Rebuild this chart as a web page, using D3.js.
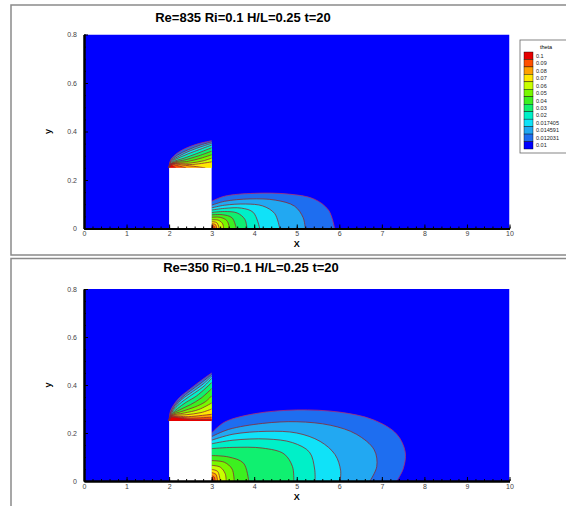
<!DOCTYPE html>
<html>
<head>
<meta charset="utf-8">
<script src="https://cdn.jsdelivr.net/npm/d3@7"></script>
<style>
  body { margin: 0; background: #fff; }
  svg { display: block; font-family: "Liberation Sans", Arial, sans-serif; }
</style>
</head>
<body>
<svg id="chart" width="566" height="506"></svg>
<script>
// contour levels (ascending) and their flood colours
const levels = [0.01, 0.012031, 0.014591, 0.017405, 0.02, 0.03, 0.04, 0.05, 0.06, 0.07, 0.08, 0.09, 0.1];
const levelColors = ["#0000ff", "#1e6ef0", "#22a8f2", "#10e2f8", "#00f0c8", "#10f070", "#3cf020", "#78f800", "#c8ff00", "#ffe800", "#ffa000", "#ff5000", "#e60000"];
const legendLabels = ["0.1", "0.09", "0.08", "0.07", "0.06", "0.05", "0.04", "0.03", "0.02", "0.017405", "0.014591", "0.012031", "0.01"];

const xTicks = [0, 1, 2, 3, 4, 5, 6, 7, 8, 9, 10];
const yTicks = [0, 0.2, 0.4, 0.6, 0.8];

// obstacle (white block)
const block = { x0: 2, x1: 3, h: 0.25 };

// Re=835 : contours above the block (level)
const cap835 = [
  [0.012031, [[2.0, 0.25], [2.03, 0.28], [2.15, 0.305], [2.37, 0.329], [2.68, 0.349], [3.0, 0.362]]],
  [0.014591, [[2.0, 0.25], [2.04, 0.279], [2.2, 0.303], [2.45, 0.325], [2.75, 0.345], [3.0, 0.357]]],
  [0.017405, [[2.0, 0.25], [2.05, 0.277], [2.25, 0.3], [2.5, 0.321], [2.8, 0.34], [3.0, 0.351]]],
  [0.02, [[2.0, 0.25], [2.06, 0.275], [2.3, 0.297], [2.6, 0.318], [3.0, 0.344]]],
  [0.03, [[2.0, 0.25], [2.07, 0.272], [2.35, 0.29], [2.65, 0.309], [3.0, 0.333]]],
  [0.04, [[2.0, 0.25], [2.08, 0.27], [2.4, 0.284], [2.7, 0.3], [3.0, 0.319]]],
  [0.05, [[2.0, 0.25], [2.08, 0.268], [2.45, 0.277], [2.75, 0.29], [3.0, 0.304]]],
  [0.06, [[2.0, 0.25], [2.07, 0.266], [2.5, 0.27], [2.8, 0.279], [3.0, 0.29]]],
  [0.07, [[2.0, 0.25], [2.06, 0.265], [2.55, 0.264], [3.0, 0.275]]],
  [0.08, [[2.0, 0.25], [2.04, 0.266], [2.3, 0.262], [2.65, 0.255], [2.85, 0.25]]],
  [0.09, [[2.0, 0.25], [2.03, 0.266], [2.18, 0.26], [2.4, 0.25]]],
  [0.1, [[2.0, 0.25], [2.02, 0.265], [2.09, 0.258], [2.16, 0.25]]]
];
// Re=835 : plume behind the block
const plume835 = [
  [0.012031, [[3.0, 0.112], [3.3, 0.133], [4.0, 0.145], [4.8, 0.142], [5.4, 0.122], [5.75, 0.075], [5.89, 0]]],
  [0.014591, [[3.0, 0.096], [3.3, 0.112], [3.9, 0.122], [4.5, 0.117], [4.95, 0.092], [5.15, 0.045], [5.2, 0]]],
  [0.017405, [[3.0, 0.085], [3.3, 0.096], [3.8, 0.101], [4.2, 0.093], [4.48, 0.062], [4.6, 0]]],
  [0.02, [[3.0, 0.076], [3.3, 0.083], [3.7, 0.084], [3.98, 0.066], [4.13, 0]]],
  [0.03, [[3.0, 0.066], [3.3, 0.07], [3.6, 0.064], [3.78, 0.038], [3.83, 0]]],
  [0.04, [[3.0, 0.056], [3.25, 0.057], [3.48, 0.044], [3.58, 0]]],
  [0.05, [[3.0, 0.046], [3.2, 0.046], [3.36, 0.032], [3.42, 0]]],
  [0.06, [[3.0, 0.036], [3.16, 0.034], [3.26, 0.019], [3.28, 0]]],
  [0.07, [[3.0, 0.028], [3.12, 0.024], [3.18, 0]]],
  [0.08, [[3.0, 0.02], [3.09, 0.016], [3.12, 0]]],
  [0.09, [[3.0, 0.013], [3.06, 0.009], [3.08, 0]]],
  [0.1, [[3.0, 0.008], [3.03, 0.005], [3.04, 0]]]
];

// Re=350 : contours above the block
const cap350 = [
  [0.012031, [[2.0, 0.25], [2.03, 0.29], [2.1, 0.315], [2.24, 0.347], [2.47, 0.38], [2.71, 0.413], [3.0, 0.45]]],
  [0.014591, [[2.0, 0.25], [2.04, 0.288], [2.12, 0.313], [2.28, 0.344], [2.5, 0.376], [2.75, 0.408], [3.0, 0.444]]],
  [0.017405, [[2.0, 0.25], [2.05, 0.286], [2.14, 0.31], [2.3, 0.34], [2.55, 0.372], [2.8, 0.404], [3.0, 0.437]]],
  [0.02, [[2.0, 0.25], [2.06, 0.284], [2.16, 0.307], [2.35, 0.336], [2.6, 0.367], [2.82, 0.395], [3.0, 0.428]]],
  [0.03, [[2.0, 0.25], [2.07, 0.281], [2.2, 0.302], [2.4, 0.328], [2.65, 0.355], [3.0, 0.41]]],
  [0.04, [[2.0, 0.25], [2.07, 0.278], [2.25, 0.297], [2.5, 0.318], [2.75, 0.345], [3.0, 0.385]]],
  [0.05, [[2.0, 0.25], [2.07, 0.275], [2.3, 0.29], [2.6, 0.308], [2.85, 0.33], [3.0, 0.355]]],
  [0.06, [[2.0, 0.25], [2.06, 0.272], [2.35, 0.283], [2.7, 0.298], [3.0, 0.325]]],
  [0.07, [[2.0, 0.25], [2.05, 0.27], [2.4, 0.276], [2.75, 0.285], [3.0, 0.3]]],
  [0.08, [[2.0, 0.25], [2.04, 0.268], [2.45, 0.268], [3.0, 0.278]]],
  [0.09, [[2.0, 0.25], [2.03, 0.266], [2.5, 0.262], [3.0, 0.266]]],
  [0.1, [[2.0, 0.25], [2.02, 0.264], [2.5, 0.257], [3.0, 0.257]]]
];
// Re=350 : plume behind the block
const plume350 = [
  [0.012031, [[3.0, 0.2], [3.3, 0.245], [4.0, 0.28], [5.0, 0.296], [6.0, 0.287], [6.8, 0.255], [7.35, 0.195], [7.55, 0.12], [7.5, 0.05], [7.35, 0]]],
  [0.014591, [[3.0, 0.185], [3.4, 0.215], [4.2, 0.24], [5.0, 0.247], [5.8, 0.232], [6.4, 0.195], [6.82, 0.13], [6.88, 0.06], [6.72, 0]]],
  [0.017405, [[3.0, 0.17], [3.5, 0.195], [4.3, 0.207], [5.0, 0.2], [5.55, 0.165], [5.9, 0.11], [6.03, 0.045], [6.02, 0]]],
  [0.02, [[3.0, 0.155], [3.5, 0.17], [4.3, 0.175], [4.9, 0.16], [5.3, 0.12], [5.42, 0.05], [5.43, 0]]],
  [0.03, [[3.0, 0.135], [3.5, 0.14], [4.2, 0.137], [4.7, 0.113], [4.9, 0.06], [4.93, 0]]],
  [0.04, [[3.0, 0.106], [3.4, 0.1], [3.75, 0.074], [3.87, 0]]],
  [0.05, [[3.0, 0.085], [3.3, 0.078], [3.48, 0.05], [3.53, 0]]],
  [0.06, [[3.0, 0.065], [3.2, 0.058], [3.32, 0.03], [3.34, 0]]],
  [0.07, [[3.0, 0.048], [3.14, 0.04], [3.2, 0]]],
  [0.08, [[3.0, 0.035], [3.1, 0.028], [3.14, 0]]],
  [0.09, [[3.0, 0.022], [3.06, 0.017], [3.08, 0]]],
  [0.1, [[3.0, 0.012], [3.03, 0.008], [3.04, 0]]]
];

const svg = d3.select("#chart");
const color = d3.scaleOrdinal().domain(levels).range(levelColors);

function drawPanel(p) {
  const g = svg.append("g");

  // panel frame
  g.append("rect")
    .attr("x", 11).attr("y", p.frameTop)
    .attr("width", 570).attr("height", p.frameH)
    .attr("fill", "none").attr("stroke", "#8a8a8a").attr("stroke-width", 1.5);

  g.append("text")
    .attr("x", p.titleX).attr("y", p.titleY)
    .attr("text-anchor", "middle")
    .attr("font-size", 13).attr("font-weight", "bold")
    .text(p.title);

  const x = d3.scaleLinear().domain([0, 10]).range([84, 509.5]);
  const y = d3.scaleLinear().domain([0, 0.8]).range([p.y0, p.y8]);

  const clipId = "clip" + p.id;
  g.append("clipPath").attr("id", clipId)
    .append("rect")
    .attr("x", x(0)).attr("y", y(0.8))
    .attr("width", x(10) - x(0)).attr("height", y(0) - y(0.8));

  const plot = g.append("g").attr("clip-path", `url(#${clipId})`);

  plot.append("rect")
    .attr("x", x(0)).attr("y", y(0.8))
    .attr("width", x(10) - x(0)).attr("height", y(0) - y(0.8))
    .attr("fill", color(0.01));

  const line = d3.line().x(d => x(d[0])).y(d => y(d[1])).curve(d3.curveCatmullRom.alpha(0.5));

  const capPath = d => line(d[1]) + `L${x(d[1][d[1].length - 1][0])},${y(block.h)}Z`;
  const plumePath = d => line(d[1]) + `L${x(block.x1)},${y(0)}Z`;

  // flooded bands, lowest level first
  plot.selectAll("path.pf").data(p.plume).enter().append("path")
    .attr("class", "pf")
    .attr("d", plumePath)
    .attr("fill", d => color(d[0]));
  plot.selectAll("path.cf").data(p.cap).enter().append("path")
    .attr("class", "cf")
    .attr("d", capPath)
    .attr("fill", d => color(d[0]));

  // contour lines
  plot.selectAll("path.cl").data(p.plume.concat(p.cap)).enter().append("path")
    .attr("class", "cl")
    .attr("d", d => line(d[1]))
    .attr("fill", "none")
    .attr("stroke", d => d[0] === 0.012031 ? "#b03070" : "#8a2a30")
    .attr("stroke-width", 0.8);

  plot.append("rect")
    .attr("x", x(block.x0)).attr("y", y(block.h))
    .attr("width", x(block.x1) - x(block.x0)).attr("height", y(0) - y(block.h))
    .attr("fill", "#fff");

  // axes
  const axX = g.append("g").attr("transform", `translate(0,${y(0)})`)
    .call(d3.axisBottom(x).tickValues(xTicks).tickSize(-4).tickSizeOuter(0).tickPadding(3));
  g.append("g").attr("transform", `translate(0,${y(0)})`)
    .call(d3.axisBottom(x).tickValues(d3.range(0, 10.01, 0.2)).tickSize(-2).tickSizeOuter(0).tickFormat(""));
  const axY = g.append("g").attr("transform", `translate(${x(0)},0)`)
    .call(d3.axisLeft(y).tickValues(yTicks).tickSize(-4).tickSizeOuter(0).tickPadding(7).tickFormat(d => d === 0 ? "0" : d3.format(".1f")(d)));
  g.append("g").attr("transform", `translate(${x(0)},0)`)
    .call(d3.axisLeft(y).tickValues(d3.range(0, 0.801, 0.05)).tickSize(-2).tickSizeOuter(0).tickFormat(""));

  g.selectAll(".domain").attr("stroke", "#000").attr("stroke-width", 2);
  g.selectAll(".tick line").attr("stroke", "#000");
  [axX, axY].forEach(a => a.selectAll("text")
    .attr("font-size", 7).attr("fill", "#444")
    .attr("font-family", "Liberation Sans, Arial, sans-serif"));

  g.append("text")
    .attr("x", x(5)).attr("y", y(0) + 18.5)
    .attr("text-anchor", "middle")
    .attr("font-size", 9).attr("font-weight", "bold")
    .text("X");
  g.append("text")
    .attr("transform", `translate(51,${y(0.4)}) rotate(-90)`)
    .attr("text-anchor", "middle")
    .attr("font-size", 9).attr("font-weight", "bold")
    .text("y");
}

drawPanel({ id: 1, frameTop: 5, frameH: 250, title: "Re=835 Ri=0.1 H/L=0.25 t=20", titleX: 243, titleY: 22,
  y0: 228.5, y8: 34.5, cap: cap835, plume: plume835 });
drawPanel({ id: 2, frameTop: 258.5, frameH: 260, title: "Re=350 Ri=0.1 H/L=0.25 t=20", titleX: 251, titleY: 272,
  y0: 481, y8: 289, cap: cap350, plume: plume350 });

// legend (top panel only)
const leg = svg.append("g").attr("transform", "translate(520,40)");
leg.append("rect")
  .attr("width", 60).attr("height", 113)
  .attr("fill", "#fff").attr("stroke", "#666").attr("stroke-width", 0.8);
leg.append("text")
  .attr("x", 26).attr("y", 9)
  .attr("text-anchor", "middle")
  .attr("font-size", 5.5)
  .text("theta");
const legY = d3.scaleBand().domain(legendLabels).range([12, 109]);
const legColor = d3.scaleOrdinal().domain(legendLabels).range(levelColors.slice().reverse());
leg.selectAll("rect.sw").data(legendLabels).enter().append("rect")
  .attr("class", "sw")
  .attr("x", 4).attr("y", d => legY(d))
  .attr("width", 9).attr("height", legY.bandwidth())
  .attr("fill", d => legColor(d))
  .attr("stroke", "#000").attr("stroke-width", 0.4);
leg.selectAll("text.lb").data(legendLabels).enter().append("text")
  .attr("class", "lb")
  .attr("x", 16).attr("y", d => legY(d) + legY.bandwidth() / 2 + 2)
  .attr("font-size", 5.5).attr("fill", "#222")
  .text(d => d);
</script>
</body>
</html>
